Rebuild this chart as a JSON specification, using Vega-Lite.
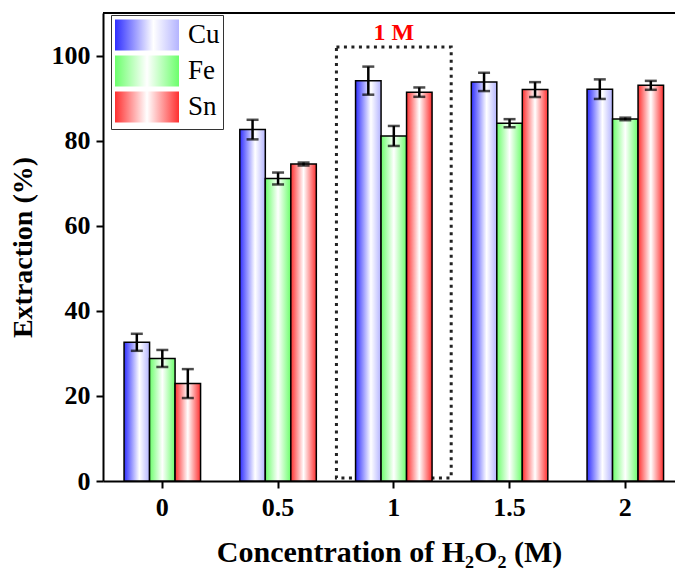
{
  "$schema": "https://vega.github.io/schema/vega-lite/v6.json",
  "width": 572,
  "height": 468,
  "autosize": "none",
  "padding": {"left": 103, "top": 13, "right": 0, "bottom": 92},
  "background": "white",
  "config": {
    "view": {"stroke": null},
    "font": "Liberation Serif",
    "axis": {
      "domainColor": "black",
      "domainWidth": 2,
      "tickColor": "black",
      "tickWidth": 2,
      "tickSize": 7,
      "grid": false,
      "labelFont": "Liberation Serif",
      "labelFontWeight": "bold",
      "labelFontSize": 26,
      "labelColor": "black",
      "titleFont": "Liberation Serif",
      "titleFontWeight": "bold",
      "titleFontSize": 28,
      "titleColor": "black"
    }
  },
  "datasets": {
    "extraction": [
      {"conc": "0", "metal": "Cu", "value": 32.6, "lo": 30.6, "hi": 34.6},
      {"conc": "0", "metal": "Fe", "value": 28.8, "lo": 26.8, "hi": 30.8},
      {"conc": "0", "metal": "Sn", "value": 22.9, "lo": 19.5, "hi": 26.3},
      {"conc": "0.5", "metal": "Cu", "value": 82.6, "lo": 80.3, "hi": 84.9},
      {"conc": "0.5", "metal": "Fe", "value": 71.1, "lo": 69.7, "hi": 72.5},
      {"conc": "0.5", "metal": "Sn", "value": 74.5, "lo": 74.15, "hi": 74.85},
      {"conc": "1", "metal": "Cu", "value": 94.1, "lo": 90.8, "hi": 97.4},
      {"conc": "1", "metal": "Fe", "value": 81.1, "lo": 78.75, "hi": 83.45},
      {"conc": "1", "metal": "Sn", "value": 91.4, "lo": 90.3, "hi": 92.5},
      {"conc": "1.5", "metal": "Cu", "value": 93.8, "lo": 91.65, "hi": 95.95},
      {"conc": "1.5", "metal": "Fe", "value": 84.1, "lo": 83.15, "hi": 85.05},
      {"conc": "1.5", "metal": "Sn", "value": 92.0, "lo": 90.25, "hi": 93.75},
      {"conc": "2", "metal": "Cu", "value": 92.1, "lo": 89.8, "hi": 94.4},
      {"conc": "2", "metal": "Fe", "value": 85.1, "lo": 84.8, "hi": 85.4},
      {"conc": "2", "metal": "Sn", "value": 93.0, "lo": 91.95, "hi": 94.05}
    ],
    "highlight": [
      {"conc": "1", "top": 102, "bottom": 0.7, "label": "1 M"}
    ]
  },
  "encoding": {
    "x": {
      "field": "conc",
      "type": "ordinal",
      "sort": ["0", "0.5", "1", "1.5", "2"],
      "scale": {"paddingInner": 0.339, "paddingOuter": 0.1404, "align": 0.648},
      "axis": {"title": "Concentration of H₂O₂ (M)", "titleFontSize": 30, "labelAngle": 0, "labelPadding": 6, "titlePadding": 17}
    }
  },
  "layer": [
    {
      "data": {"name": "highlight"},
      "mark": {"type": "bar", "width": {"band": 1.5}, "fill": null, "fillOpacity": 0, "stroke": "#222222", "strokeWidth": 3, "strokeDash": [3, 4.5]},
      "encoding": {
        "y": {"field": "top", "type": "quantitative", "scale": {"domain": [0, 110]}},
        "y2": {"field": "bottom"}
      }
    },
    {
      "data": {"name": "highlight"},
      "mark": {"type": "text", "color": "#ff0000", "font": "Liberation Serif", "fontWeight": "bold", "fontSize": 24, "baseline": "bottom", "dy": -2},
      "encoding": {
        "y": {"field": "top", "type": "quantitative"},
        "text": {"field": "label"}
      }
    },
    {
      "data": {"name": "extraction"},
      "mark": {
        "type": "point",
        "filled": true,
        "opacity": 0,
        "stroke": "black",
        "strokeWidth": 1.5,
        "fill": {"expr": "datum.value === 'Cu' ? {gradient: 'linear', x1: 0, y1: 0, x2: 1, y2: 0, stops: [{offset: 0, color: '#2f2fff'}, {offset: 0.6, color: '#ffffff'}, {offset: 1, color: '#b4b4ff'}]} : datum.value === 'Fe' ? {gradient: 'linear', x1: 0, y1: 0, x2: 1, y2: 0, stops: [{offset: 0, color: '#6cff6c'}, {offset: 0.5, color: '#ffffff'}, {offset: 1, color: '#6cff6c'}]} : {gradient: 'linear', x1: 0, y1: 0, x2: 1, y2: 0, stops: [{offset: 0, color: '#ff3030'}, {offset: 0.5, color: '#ffffff'}, {offset: 1, color: '#ff3030'}]}"}
      },
      "encoding": {
        "xOffset": {"field": "metal", "type": "nominal", "sort": ["Cu", "Fe", "Sn"], "scale": {"paddingInner": 0, "paddingOuter": 0}},
        "y": {
          "field": "value",
          "type": "quantitative",
          "scale": {"domain": [0, 110]},
          "axis": {"title": "Extraction (%)", "values": [0, 20, 40, 60, 80, 100], "labelPadding": 6, "titlePadding": 14}
        },
        "shape": {
          "field": "metal",
          "type": "nominal",
          "sort": ["Cu", "Fe", "Sn"],
          "scale": {"domain": ["Cu", "Fe", "Sn"], "range": ["M-1,-0.97H3V0.97H-1Z", "M-1,-0.97H3V0.97H-1Z", "M-1,-0.97H3V0.97H-1Z"]},
          "legend": {
            "orient": "none",
            "legendX": 8,
            "legendY": 2,
            "title": null,
            "symbolSize": 1024,
            "symbolOpacity": 1,
            "symbolStrokeColor": "black",
            "symbolStrokeWidth": 1.5,
            "labelFont": "Liberation Serif",
            "labelFontSize": 27,
            "labelColor": "black",
            "labelOffset": 40,
            "rowPadding": -3,
            "padding": 3,
            "fillColor": "white",
            "strokeColor": "#333333"
          }
        }
      }
    },
    {
      "data": {"name": "extraction"},
      "transform": [{"filter": "datum.metal === 'Cu'"}],
      "mark": {"type": "bar", "stroke": "black", "strokeWidth": 1.5, "fill": {"gradient": "linear", "x1": 0, "y1": 0, "x2": 1, "y2": 0, "stops": [{"offset": 0, "color": "#2f2fff"}, {"offset": 0.6, "color": "#ffffff"}, {"offset": 1, "color": "#b4b4ff"}]}},
      "encoding": {
        "xOffset": {"field": "metal", "type": "nominal", "sort": ["Cu", "Fe", "Sn"]},
        "y": {"field": "value", "type": "quantitative"}
      }
    },
    {
      "data": {"name": "extraction"},
      "transform": [{"filter": "datum.metal === 'Fe'"}],
      "mark": {"type": "bar", "stroke": "black", "strokeWidth": 1.5, "fill": {"gradient": "linear", "x1": 0, "y1": 0, "x2": 1, "y2": 0, "stops": [{"offset": 0, "color": "#6cff6c"}, {"offset": 0.5, "color": "#ffffff"}, {"offset": 1, "color": "#6cff6c"}]}},
      "encoding": {
        "xOffset": {"field": "metal", "type": "nominal", "sort": ["Cu", "Fe", "Sn"]},
        "y": {"field": "value", "type": "quantitative"}
      }
    },
    {
      "data": {"name": "extraction"},
      "transform": [{"filter": "datum.metal === 'Sn'"}],
      "mark": {"type": "bar", "stroke": "black", "strokeWidth": 1.5, "fill": {"gradient": "linear", "x1": 0, "y1": 0, "x2": 1, "y2": 0, "stops": [{"offset": 0, "color": "#ff3030"}, {"offset": 0.5, "color": "#ffffff"}, {"offset": 1, "color": "#ff3030"}]}},
      "encoding": {
        "xOffset": {"field": "metal", "type": "nominal", "sort": ["Cu", "Fe", "Sn"]},
        "y": {"field": "value", "type": "quantitative"}
      }
    },
    {
      "data": {"name": "extraction"},
      "mark": {"type": "rule", "color": "black", "strokeWidth": 2.5},
      "encoding": {
        "xOffset": {"field": "metal", "type": "nominal", "sort": ["Cu", "Fe", "Sn"]},
        "y": {"field": "lo", "type": "quantitative"},
        "y2": {"field": "hi"}
      }
    },
    {
      "data": {"name": "extraction"},
      "mark": {"type": "tick", "color": "black", "thickness": 2.5, "size": 12, "orient": "horizontal"},
      "encoding": {
        "xOffset": {"field": "metal", "type": "nominal", "sort": ["Cu", "Fe", "Sn"]},
        "y": {"field": "lo", "type": "quantitative"}
      }
    },
    {
      "data": {"name": "extraction"},
      "mark": {"type": "tick", "color": "black", "thickness": 2.5, "size": 12, "orient": "horizontal"},
      "encoding": {
        "xOffset": {"field": "metal", "type": "nominal", "sort": ["Cu", "Fe", "Sn"]},
        "y": {"field": "hi", "type": "quantitative"}
      }
    },
    {
      "data": {"values": [{"frame": 110}]},
      "mark": {"type": "rule", "color": "black", "strokeWidth": 2},
      "encoding": {
        "x": null,
        "y": {"field": "frame", "type": "quantitative"}
      }
    }
  ]
}
